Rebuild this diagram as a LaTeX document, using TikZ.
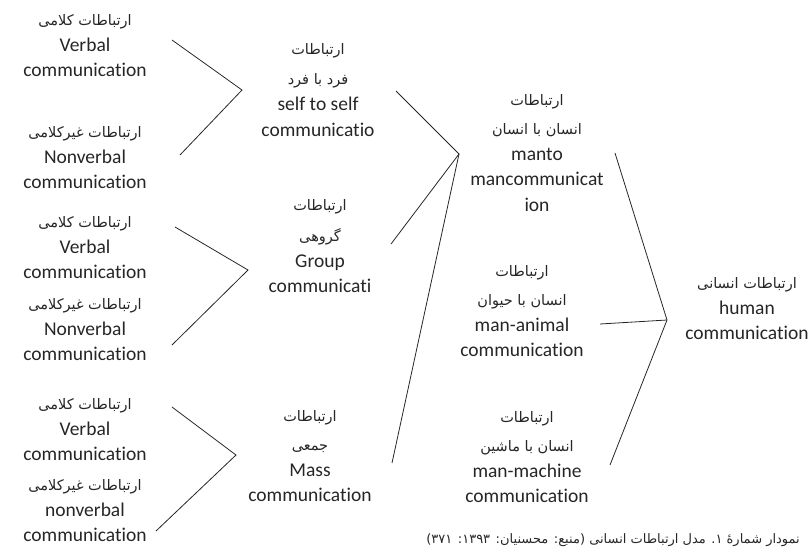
\documentclass[tikz,border=0pt]{standalone}
\usepackage{fontspec}
\setmainfont{Carlito}[Ligatures=NoCommon]
\newfontfamily\fa[Script=Arabic]{DejaVu Sans}
\TeXXeTstate=1
\newcommand\fl[1]{{\fa\fontsize{14.5}{17}\selectfont\beginR #1\endR}}
\tikzset{
  block/.style={align=center, inner sep=0pt, text=black!85,
    font=\fontsize{19.5}{25.5}\selectfont},
  conn/.style={draw=black!85, line width=0.8pt},
}
\begin{document}
\begin{tikzpicture}[x=1pt,y=-1pt]
\useasboundingbox (0,0) rectangle (811,555);
% left column
\node[block] (l1) at (85,46) {\fl{ارتباطات کلامی}\\Verbal\\communication};
\node[block] (l2) at (85,158) {\fl{ارتباطات غیرکلامی}\\Nonverbal\\communication};
\node[block] (l3) at (85,248) {\fl{ارتباطات کلامی}\\Verbal\\communication};
\node[block] (l4) at (85,330) {\fl{ارتباطات غیرکلامی}\\Nonverbal\\communication};
\node[block] (l5) at (85,430) {\fl{ارتباطات کلامی}\\Verbal\\communication};
\node[block] (l6) at (85,511) {\fl{ارتباطات غیرکلامی}\\nonverbal\\communication};
% middle column
\node[block] (m1) at (318,90) {\fl{ارتباطات}\\[4pt]\fl{فرد با فرد}\\[1pt]self to self\\communicatio};
\node[block] (m2) at (320,246) {\fl{ارتباطات}\\[6pt]\fl{گروهی}\\Group\\communicati};
\node[block] (m3) at (310,456) {\fl{ارتباطات}\\[4pt]\fl{جمعی}\\Mass\\communication};
% third column
\node[block] (t1) at (537,153) {\fl{ارتباطات}\\[4pt]\fl{انسان با انسان}\\manto\\mancommunicat\\ion};
\node[block] (t2) at (522,311) {\fl{ارتباطات}\\[4pt]\fl{انسان با حیوان}\\man-animal\\communication};
\node[block] (t3) at (527,457) {\fl{ارتباطات}\\[4pt]\fl{انسان با ماشین}\\man-machine\\communication};
% right
\node[block] (r) at (747,309) {\fl{ارتباطات انسانی}\\human\\communication};
% caption
\node[anchor=east, inner sep=0pt, text=black!85] (cap) at (800,540)
  {\fa\fontsize{13}{16}\selectfont\beginR نمودار شمارهٔ ۱. مدل ارتباطات انسانی (منبع: محسنیان: ۱۳۹۳: ۳۷۱)\endR};
% connector points
\coordinate (a1s) at (172,40);  \coordinate (a1) at (242,90);  \coordinate (a1e) at (180,155);
\coordinate (a2s) at (175,227); \coordinate (a2) at (248,270); \coordinate (a2e) at (172,345);
\coordinate (a3s) at (172,407); \coordinate (a3) at (236,455); \coordinate (a3e) at (156,531);
\coordinate (b1) at (396,91); \coordinate (b2) at (391,244); \coordinate (b3) at (392,463);
\coordinate (bx) at (459,154);
\coordinate (c1) at (615,153); \coordinate (c2) at (600,324); \coordinate (c3) at (610,465);
\coordinate (cx) at (667,320);
\draw[conn] (a1s) -- (a1) -- (a1e);
\draw[conn] (a2s) -- (a2) -- (a2e);
\draw[conn] (a3s) -- (a3) -- (a3e);
\draw[conn] (b1) -- (bx) -- (b2);
\draw[conn] (bx) -- (b3);
\draw[conn] (c1) -- (cx) -- (c3);
\draw[conn] (c2) -- (cx);
\end{tikzpicture}
\end{document}
